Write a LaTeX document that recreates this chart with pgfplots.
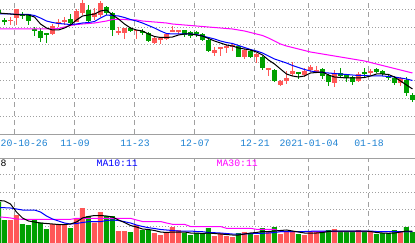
\documentclass[border=0pt]{standalone}
\usepackage{pgfplots}
\pgfplotsset{compat=1.18}
\usepackage{pgfplotstable}
\usepackage{fontspec}
\setmainfont{Liberation Mono}
\definecolor{upc}{HTML}{FF5757}
\definecolor{dnc}{HTML}{00A000}
\definecolor{gridc}{HTML}{A0A0A0}
\definecolor{datec}{HTML}{1E82D2}
\definecolor{mag}{HTML}{FF00FF}

% candles (values read as vertical positions, 0 = top of the price panel)
\pgfplotstableread{
i o c h l
1 20.5 20.5 17 25
2 18 9.5 9 25
8 34 26 24 35
9 23 23 19 27
10 21 21 17 25
12 22 11 9 22
13 13 3 0 15
15 17 13 8 20
16 15 3 1 17
19 33 31 27 35
20 33 28 28 39
22 31 30 30 39
25 43 38 37 44
26 39 39 38 44
27 39 34 34 40
28 31 31 26 32
29 32 30 30 34
35 53 50 47 56
36 48 48 48 56
37 48 46 44 53
38 46 46 43 51
40 57 50 49 59
42 57 54 53 63
44 69 69 68 76
46 85 81 80 86
47 81 78 71 84
48 74 71 62 76
50 75 71 68 77
51 70 67 65 72
52 72 70 66 73
55 83 73 70 87
59 81 74 72 82
61 73 71 69 75
66 83 78 77 86
}\upK
\pgfplotstableread{
i o c h l
-1 10 13 9 14
0 21 21 18 25
3 15 15 12 19
4 14 21 14 25
5 29 31 27 36
6 31 38 28 42
7 34 34 33 43
11 19 23 14 25
14 10 21 5 22
17 7 13 6 15
18 13 30 12 36
21 28 31 27 32
23 31 33 29 35
24 33 41 32 42
30 30 35 30 37
31 32 36 31 38
32 33 33 31 37
33 34 40 33 41
34 40 51 39 52
39 46 57 45 57
41 51 57 50 58
43 57 68 56 70
45 70 81 69 82
49 73 73 73 79
53 69 76 68 79
54 75 82 74 86
56 73 76 68 77
57 75 78 74 82
58 77 82 76 85
60 73 73 68 77
62 69 72 68 73
63 71 74 70 76
64 77 77 74 80
65 78 83 76 85
67 80 93 77 96
68 95 100 93 102
}\dnK
\pgfplotstableread{
i a5 a10 a30
-1 13 14 29
0 13.5 14 29
1 14 14 29
2 14.5 14.5 29
3 15 14.5 29
4 15 14.5 29
5 17 15.5 29
6 24 18 29
7 28 21 29
8 30 22.5 29
9 30 23.5 28.5
10 28 24 27
11 25 24.5 25.5
12 20 24 24.5
13 16 23 24
14 15 22.5 23.5
15 14 21.5 23
16 11 18 22
17 10 15 21
18 15 15.5 19.5
19 19 16 19.3
20 24 17.5 19.5
21 28 19.5 20
22 30 21 20
23 31 23 21
24 34 25.5 21.5
25 36.5 28 22
26 37.5 31 22.5
27 37.5 33.5 23
28 37 34 24
29 35 34 24.5
30 34 34 25
31 34 34 25.5
32 35 34.5 26
33 36 36 26.5
34 38.5 37.5 27
35 41 39 27.5
36 43 41 28
37 45 42.5 28.5
38 46 43.5 29
39 48 45.5 30
40 49 47.5 31
41 50 49.5 32.5
42 52 51 34
43 55 53 35.5
44 60 56 38
45 64 59 41
46 69 61 44
47 74 63 46
48 76 65.5 47.5
49 77 67.5 49
50 76 69.5 50.5
51 73 71 52
52 72.5 72 53
53 72 72.5 54
54 75 73 55
55 77 73.5 56
56 77.5 74 57
57 78 74.5 58
58 78 75 59
59 78 75.5 60
60 77.5 75.5 61
61 76 76 62.5
62 74 76 64
63 74 76 65.5
64 74.5 76.5 67
65 77 77 68.5
66 81 78 70
67 85 79 71.5
68 89 80.5 73
}\maMain
% volume bars: top of bar (vertical position, bottom of panel = 243)
\pgfplotstableread{
i v
1 220
2 215
8 224
9 225
10 225
12 218
13 208
15 222.7
16 212
19 231
20 231
22 225
25 233
26 235
27 232
28 227
29 230
35 236
36 233
37 236
38 237
40 232
42 235
44 231
46 234
47 231
48 231
50 235
51 231.5
52 231.5
55 229
59 230
61 232
66 231
}\upV
\pgfplotstableread{
i v
-1 201.5
0 220
3 224
4 225
5 220
6 222.7
7 229
11 228
14 216
17 216
18 216
21 232
23 230
24 230
30 233
31 235
32 233
33 233
34 228
39 233
41 233
43 228
45 227
49 234
53 232
54 230
56 232
57 232
58 232
60 232
62 234
63 233
64 233
65 230
67 227
68 232
}\dnV
\pgfplotstableread{
i b5 b10 b30
-1 200.5 207.7 217
0 201 207.7 217.3
1 204 208 218
2 212 209 219
3 218 210 219.3
4 221 210 219.3
5 222 210 219.3
6 223 212 219.3
7 223.5 216 219.3
8 224 219 219.3
9 224.5 221 219.3
10 224.5 223 219.3
11 224 224 219.3
12 222 223.5 218.3
13 218 222.5 218.3
14 216.5 221.7 218.3
15 215.5 221.7 218.3
16 215.5 221.7 218.3
17 216 220.5 218.3
18 217 220 218.3
19 220 220.5 218.3
20 222.5 221.7 218.3
21 225.5 223 218.3
22 227 225 220
23 229 226.5 221.5
24 229.5 227.7 221.5
25 230.5 228.5 221.5
26 232 229.5 221.5
27 232.5 230 223
28 232 230.5 224.3
29 232 231 224.3
30 232 231 224.3
31 233 231 226.5
32 233 231.5 226.5
33 233.5 231.7 226.5
34 233 232.5 226.5
35 233.5 232.7 226.5
36 234 233 226.5
37 234.5 233.5 228.3
38 235 234 228.3
39 235 234 228.3
40 234 234 228.3
41 233 233.7 228.3
42 232.5 233.3 229.3
43 231.5 233.3 229.3
44 231.5 233 229.3
45 231 232.5 229.3
46 230.5 231.7 231.7
47 230 231.7 231.7
48 231 231.7 231.7
49 232 231.5 231.7
50 233 231.5 231.7
51 233 231.3 231.7
52 233 231 231.7
53 232.5 231 231.7
54 231.5 231 231.7
55 231 231 231.7
56 231 231 231.7
57 231 231 231.7
58 231 231 231.7
59 231 231 231.7
60 231 231 231.7
61 231.5 231 231.7
62 232.5 231.5 231.7
63 233 231.5 231.7
64 233.3 231.5 231.7
65 233 231.5 231.7
66 232 231.5 231.7
67 231 231.5 231.7
68 231 231.5 231.7
}\maVol

\pgfplotsset{
  candlewick/.style={draw=none, mark=none, error bars/y dir=both, error bars/y explicit, error bars/error mark=none, error bars/error bar style={line width=1bp, draw=#1, solid}},
  candlebody/.style={draw=none, mark=none, error bars/y dir=both, error bars/y explicit, error bars/error mark=none, error bars/error bar style={line width=5bp, draw=#1, solid}},
  panel/.style={width=415bp, scale only axis, xmin=-0.75, xmax=68.42,
    axis line style={draw=none}, major tick length=0pt,
    xtick={1.75,11.75,21.75,31.75,41.75,50.75,60.75},
    xmajorgrids, ymajorgrids, yticklabels={},
    x grid style={gridc, line width=1bp, dash pattern=on 5bp off 4bp},
    y grid style={gridc, line width=1bp, dash pattern=on 1bp off 2bp}},
}
\newcommand\lbl{\fontsize{9.8bp}{10bp}\selectfont}

\begin{document}
\begin{tikzpicture}
\useasboundingbox (0,0) rectangle (415bp,-243bp);
\begin{axis}[panel, at={(0,0)}, anchor=north west, height=134bp,
  ymin=-134, ymax=0,
  ytick={-10,-28,-45,-63,-81,-99,-117},
  xticklabels={{},11-09,11-23,12-07,12-21,2021-01-04,01-18},
  xticklabel style={font=\lbl, text=datec, anchor=center, yshift=-9bp, inner sep=0pt}]
\addplot[candlewick=upc] table[x=i, y expr={-(\thisrow{h}+\thisrow{l})/2}, y error expr={(\thisrow{l}-\thisrow{h})/2}] {\upK};
\addplot[candlebody=upc] table[x=i, y expr={-(\thisrow{o}+\thisrow{c})/2}, y error expr={max(abs(\thisrow{o}-\thisrow{c})/2,0.5)}] {\upK};
\addplot[candlewick=dnc] table[x=i, y expr={-(\thisrow{h}+\thisrow{l})/2}, y error expr={(\thisrow{l}-\thisrow{h})/2}] {\dnK};
\addplot[candlebody=dnc] table[x=i, y expr={-(\thisrow{o}+\thisrow{c})/2}, y error expr={max(abs(\thisrow{o}-\thisrow{c})/2,0.5)}] {\dnK};
\addplot[mag, line width=1bp, mark=none] table[x=i, y expr={-\thisrow{a30}}] {\maMain};
\addplot[blue, line width=1bp, mark=none] table[x=i, y expr={-\thisrow{a10}}] {\maMain};
\addplot[black, line width=1bp, mark=none] table[x=i, y expr={-\thisrow{a5}}] {\maMain};
\end{axis}
\begin{axis}[panel, at={(0,-158bp)}, anchor=north west, height=85bp,
  ymin=0, ymax=85, ytick={17,34,51,69}, xticklabels={}]
\addplot[ybar, bar width=5bp, bar shift=0pt, fill=upc, draw=none] table[x=i, y expr={243-\thisrow{v}}] {\upV};
\addplot[ybar, bar width=5bp, bar shift=0pt, fill=dnc, draw=none] table[x=i, y expr={243-\thisrow{v}}] {\dnV};
\addplot[mag, line width=1bp, mark=none] table[x=i, y expr={243-\thisrow{b30}}] {\maVol};
\addplot[blue, line width=1bp, mark=none] table[x=i, y expr={243-\thisrow{b10}}] {\maVol};
\addplot[black, line width=1bp, mark=none] table[x=i, y expr={243-\thisrow{b5}}] {\maVol};
\end{axis}
\draw[gridc, line width=1bp] (0,-134.5bp) -- (415bp,-134.5bp);
\draw[gridc, line width=1bp] (0,-158.5bp) -- (415bp,-158.5bp);
\node[anchor=west, inner sep=0pt, text=datec, font=\lbl] at (0.5bp,-143bp) {20-10-26};
\node[anchor=west, inner sep=0pt, text=black, font=\lbl] at (0.5bp,-163.5bp) {8};
\node[anchor=west, inner sep=0pt, text=blue, font=\lbl] at (96.5bp,-163.5bp) {MA10:11};
\node[anchor=west, inner sep=0pt, text=mag, font=\lbl] at (216.5bp,-163.5bp) {MA30:11};
\end{tikzpicture}
\end{document}
